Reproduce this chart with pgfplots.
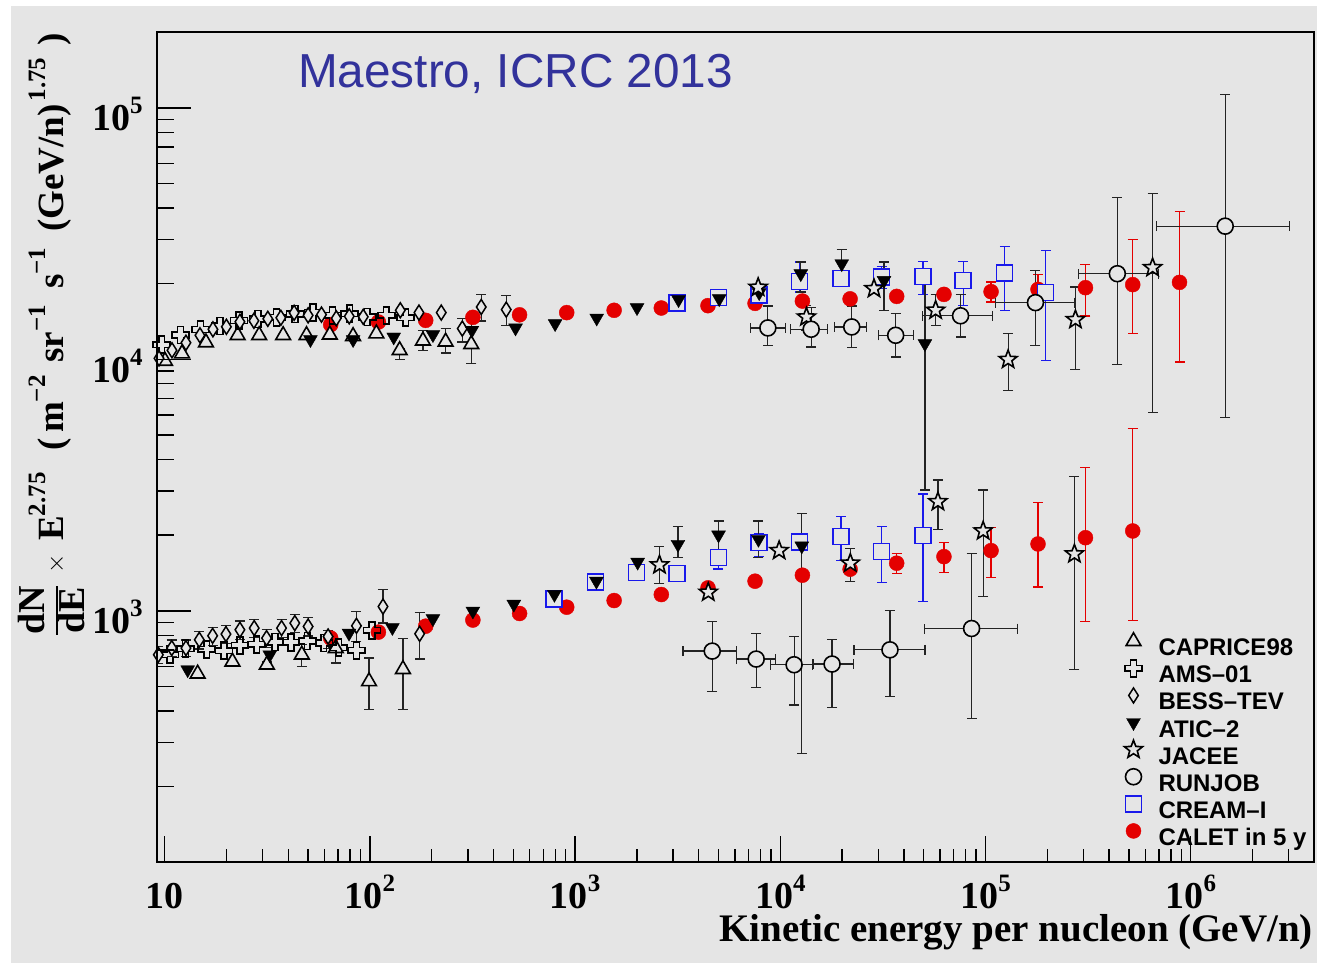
\documentclass[border=0pt]{standalone}
\usepackage{pgfplots}
\pgfplotsset{compat=1.18}
\usepackage{fontspec}
\setmainfont{Liberation Serif}
\newfontfamily\helv{Liberation Sans}
\usetikzlibrary{plotmarks}

\definecolor{bg}{RGB}{229,229,229}
\definecolor{calred}{RGB}{228,0,0}
\definecolor{creamblue}{RGB}{25,25,235}
\definecolor{titleblue}{RGB}{50,50,155}
\definecolor{ebar}{RGB}{35,35,35}

% open five-pointed star
\pgfdeclareplotmark{ostar}{%
  \pgfpathmoveto{\pgfpointpolar{90}{\pgfplotmarksize}}%
  \pgfpathlineto{\pgfpointpolar{126}{0.42\pgfplotmarksize}}%
  \pgfpathlineto{\pgfpointpolar{162}{\pgfplotmarksize}}%
  \pgfpathlineto{\pgfpointpolar{198}{0.42\pgfplotmarksize}}%
  \pgfpathlineto{\pgfpointpolar{234}{\pgfplotmarksize}}%
  \pgfpathlineto{\pgfpointpolar{270}{0.42\pgfplotmarksize}}%
  \pgfpathlineto{\pgfpointpolar{306}{\pgfplotmarksize}}%
  \pgfpathlineto{\pgfpointpolar{342}{0.42\pgfplotmarksize}}%
  \pgfpathlineto{\pgfpointpolar{18}{\pgfplotmarksize}}%
  \pgfpathlineto{\pgfpointpolar{54}{0.42\pgfplotmarksize}}%
  \pgfpathclose\pgfusepathqfillstroke}
% open cross (outline of a plus sign)
\pgfdeclareplotmark{ocross}{%
  \pgfpathmoveto{\pgfpoint{-0.34\pgfplotmarksize}{\pgfplotmarksize}}%
  \pgfpathlineto{\pgfpoint{0.34\pgfplotmarksize}{\pgfplotmarksize}}%
  \pgfpathlineto{\pgfpoint{0.34\pgfplotmarksize}{0.34\pgfplotmarksize}}%
  \pgfpathlineto{\pgfpoint{\pgfplotmarksize}{0.34\pgfplotmarksize}}%
  \pgfpathlineto{\pgfpoint{\pgfplotmarksize}{-0.34\pgfplotmarksize}}%
  \pgfpathlineto{\pgfpoint{0.34\pgfplotmarksize}{-0.34\pgfplotmarksize}}%
  \pgfpathlineto{\pgfpoint{0.34\pgfplotmarksize}{-\pgfplotmarksize}}%
  \pgfpathlineto{\pgfpoint{-0.34\pgfplotmarksize}{-\pgfplotmarksize}}%
  \pgfpathlineto{\pgfpoint{-0.34\pgfplotmarksize}{-0.34\pgfplotmarksize}}%
  \pgfpathlineto{\pgfpoint{-\pgfplotmarksize}{-0.34\pgfplotmarksize}}%
  \pgfpathlineto{\pgfpoint{-\pgfplotmarksize}{0.34\pgfplotmarksize}}%
  \pgfpathlineto{\pgfpoint{-0.34\pgfplotmarksize}{0.34\pgfplotmarksize}}%
  \pgfpathclose\pgfusepathqstroke}

% tick labels: bold 10 with a raised exponent
\newcommand\tl[2]{{\fontsize{38}{38}\selectfont\bfseries #1\raisebox{17pt}{\fontsize{25}{25}\selectfont #2}}}
\newcommand\sups[1]{\raisebox{18pt}{\fontsize{25}{25}\selectfont #1}}
\newcommand\dNdE{{\fontsize{38}{38}\selectfont\setlength\arrayrulewidth{1.8pt}\setlength\tabcolsep{0pt}\begin{tabular}{c}dN\\\hline dE\end{tabular}}}

\pgfplotsset{
  ebars/.style={error bars/y dir=both, error bars/y explicit,
    error bars/error bar style={line width=1.2pt, #1},
    error bars/error mark options={rotate=90, line width=1.2pt, mark size=5pt, #1}},
  xebars/.style={error bars/x dir=both, error bars/x explicit},
  openmark/.style={mark options={fill=bg, draw=black, line width=1.6pt}},
}

\begin{document}
\begin{tikzpicture}[x=1pt,y=1pt]
\useasboundingbox (0,0) rectangle (1317,963);
\fill[white] (0,0) rectangle (1317,963);
\fill[bg] (11,0) rectangle (1317,957);

\begin{axis}[
  at={(156.7pt,100.7pt)}, anchor=south west, scale only axis,
  width=1157.6pt, height=830pt,
  xmode=log, ymode=log,
  xmin=9.14, xmax=4.0e6, ymin=100, ymax=2e5,
  axis line style={line width=1.8pt},
  tick style={line width=1.4pt, black},
  tick align=inside, tick pos=left,
  major tick length=26pt, minor tick length=13pt,
  xtick={10,100,1000,10000,100000,1000000},
  minor xtick={20,30,40,50,60,70,80,90,200,300,400,500,600,700,800,900,
    2000,3000,4000,5000,6000,7000,8000,9000,20000,30000,40000,50000,60000,70000,80000,90000,
    200000,300000,400000,500000,600000,700000,800000,900000,2000000,3000000},
  xticklabels={\tl{10}{}, \tl{10}{2}, \tl{10}{3}, \tl{10}{4}, \tl{10}{5}, \tl{10}{6}},
  xticklabel style={anchor=base, yshift=-46pt, inner sep=0pt},
  ytick=\empty,
  legend image code/.code={\path[draw=none, fill=none] (-10pt,-6pt) rectangle (10pt,18pt);
    \draw[#1] plot coordinates {(0pt,8.5pt)};},
  legend style={at={(0.8350,0.2780)}, anchor=north west, draw=none, fill=none,
    inner sep=0pt, row sep=-2.9pt, column sep=15pt,
    font={\helv\bfseries\fontsize{24}{24}\selectfont},
    nodes={inner sep=0pt, text height=18pt, text depth=6pt}},
  legend cell align=left,
]

% CALET in 5 y (red filled circles)
\addplot[forget plot, only marks, color=calred, mark=*, mark size=7.5pt,
  mark options={fill=calred, draw=calred}]
  table[row sep=\\] {x y\\
  64.4 13750\\ 110 14080\\ 187 14300\\ 317.5 14700\\ 536 15040\\ 910 15350\\
  1549 15680\\ 2630 16010\\ 4440 16360\\ 7530 16710\\ 12810 17060\\ 21880 17410\\
  36900 17810\\ 62700 18140\\
  64.4 779\\ 110 823\\ 187 869\\ 317.5 919\\ 536 976\\ 910 1034\\ 1549 1099\\
  2630 1161\\ 4440 1234\\ 7530 1312\\ 12810 1386\\ 21880 1464\\};
\addplot[forget plot, only marks, color=calred, mark=*, mark size=7.5pt,
  mark options={fill=calred, draw=calred}, ebars=calred]
  table[row sep=\\, x=x, y=y, y error plus=yp, y error minus=ym] {x y yp ym\\
  106400 18600 1700 1690\\ 180200 18990 2790 2090\\ 306900 19290 4510 4410\\
  521600 19830 10080 7160\\ 881600 20250 18500 10480\\
  36900 1547 148 136\\ 62700 1643 224 218\\ 106400 1736 406 380\\
  180200 1845 856 600\\ 306900 1954 1766 1050\\ 521600 2078 3216 1163\\};

% CAPRICE98 (open triangles)
\addplot[forget plot, only marks, mark=triangle*, mark size=8.5pt, openmark]
  table[row sep=\\] {x y\\
  10.03 9859\\ 12.14 10550\\ 15.89 11670\\ 22.66 12470\\ 28.86 12470\\ 37.77 12470\\
  49.09 12470\\ 63.74 12530\\ 82.76 12360\\ 107.5 12670\\
  14.47 562.1\\ 21.38 627.5\\};
\addplot[forget plot, only marks, mark=triangle*, mark size=8.5pt, openmark, ebars=ebar]
  table[row sep=\\, x=x, y=y, y error plus=yp, y error minus=ym] {x y yp ym\\
  139.6 10870 210 883\\ 181.3 11860 1200 990\\ 233.8 11750 1510 1140\\ 311.8 11490 3040 1863\\
  31.47 610.5 15 15\\ 46.57 668.9 63.9 67.9\\ 68.18 709.8 57.5 89.8\\
  99.0 524.0 125 119.5\\ 144.9 585.9 193.1 181.4\\};

% AMS-01 (open crosses)
\addplot[forget plot, only marks, mark=ocross, mark size=8.5pt,
  mark options={draw=black, line width=1.6pt}]
  table[row sep=\\] {x y\\
  9.67 11440\\ 11.94 12510\\ 14.94 13140\\ 18.58 13600\\ 23.04 14270\\ 28.44 14460\\
  35.08 14700\\ 43.07 15140\\ 52.7 15360\\ 65.7 14970\\ 79.7 15210\\ 97.0 14740\\
  120.3 14970\\ 149.4 14640\\
  10.61 668.9\\ 12.63 707.8\\ 16.01 703.3\\ 19.44 693.8\\ 23.25 729.5\\ 28.04 736.2\\
  34.41 751.8\\ 41.18 749.8\\ 49.54 758.1\\ 59.6 744.3\\ 70.5 713.1\\ 85.97 697\\ 102.3 837\\};

% BESS-TEV (open diamonds)
\addplot[forget plot, only marks, mark=diamond*, mark size=7.5pt,
  mark options={fill=bg, draw=black, line width=1.5pt, xscale=0.85}]
  table[row sep=\\] {x y\\
  9.38 10100\\ 10.85 10870\\ 12.69 11650\\ 14.85 12470\\ 17.18 13170\\ 19.98 13480\\
  23.25 14110\\ 27.2 14240\\ 31.8 14500\\ 36.81 14640\\ 42.72 15320\\ 49.98 14970\\
  58.07 15070\\ 68.55 14570\\ 79.31 14840\\ 92.77 14770\\ 140.6 15680\\ 173.4 15350\\
  222.6 15350\\};
\addplot[forget plot, only marks, mark=diamond*, mark size=7.5pt,
  mark options={fill=bg, draw=black, line width=1.5pt, xscale=0.85}, ebars=ebar]
  table[row sep=\\, x=x, y=y, y error plus=yp, y error minus=ym] {x y yp ym\\
  281.9 13260 1270 1530\\ 348.7 16160 1980 1950\\ 461.6 15780 2190 2110\\
  9.31 668.9 50 50\\ 10.82 711.1 55 55\\ 12.69 711.1 55 55\\ 14.74 767.3 62 62\\
  17.12 795.8 65 65\\ 19.88 808.3 66 66\\ 23.25 840.7 70 70\\ 27.29 853.8 70 70\\
  31.36 779 64 64\\ 37.1 853.8 70 70\\ 43.05 893.9 75 75\\ 49.98 866.5 72 72\\
  62.55 790.7 45 80\\ 85.97 871.9 121.7 116.7\\ 115.8 1040 172 146\\ 174.7 810.3 174.1 167.2\\};

% CREAM-I (blue open squares)
\addplot[forget plot, only marks, mark=square*, mark size=8pt,
  mark options={fill=bg, draw=creamblue, line width=1.4pt}]
  table[row sep=\\] {x y\\
  3136 16750\\ 4982 17600\\ 7862 18030\\
  788.6 1116\\ 1256 1304\\ 1992 1419\\ 3136 1411\\};
\addplot[forget plot, only marks, mark=square*, mark size=8pt,
  mark options={fill=bg, draw=creamblue, line width=1.4pt}, ebars=creamblue]
  table[row sep=\\, x=x, y=y, y error plus=yp, y error minus=ym] {x y yp ym\\
  12440 20380 4000 1850\\ 19760 21000 1180 1120\\ 31180 21250 2190 2090\\
  49550 21390 3210 3250\\ 77800 20620 3980 4210\\ 124100 22040 6180 6360\\
  196600 18480 8650 8558\\
  4982 1628 119 160\\ 7862 1874 160 231\\ 12440 1879 125 132\\ 19760 1980 388 396\\
  31180 1720 441 424\\ 49550 1991 923 902\\};

% ATIC-2 (filled down triangles)
\addplot[forget plot, only marks, mark=triangle*, mark size=8pt,
  mark options={rotate=180, fill=black, draw=black}]
  table[row sep=\\] {x y\\
  51.3 11990\\ 82.8 11990\\ 130.6 12280\\ 202.8 12550\\ 314 13060\\ 512.3 13340\\
  799 13880\\ 1274 14610\\ 2003 16070\\ 3192 17290\\ 5037 17440\\ 7887 18430\\
  12.94 583.3\\ 32.5 668.9\\ 79.1 815.5\\ 128.7 858.6\\ 202.8 931.1\\ 317.5 998.2\\
  502.6 1063\\ 793 1163\\ 1270 1312\\ 2017 1562\\};
\addplot[forget plot, only marks, mark=triangle*, mark size=8pt,
  mark options={rotate=180, fill=black, draw=black}, ebars=ebar]
  table[row sep=\\, x=x, y=y, y error plus=yp, y error minus=ym] {x y yp ym\\
  12580 21920 2460 3390\\ 19920 24020 3290 3720\\ 32000 20620 3760 4940\\
  50660 11560 8320 8538\\
  3171 1840 321 206\\ 4998 2004 273 309\\ 7825 1926 351 292\\ 12720 1812 631 1540.7\\};

% JACEE (open stars)
\addplot[forget plot, only marks, mark=ostar, mark size=9.5pt, openmark]
  table[row sep=\\] {x y\\
  7798 19340\\ 28610 19110\\ 4454 1185\\ 9867 1736\\};
\addplot[forget plot, only marks, mark=ostar, mark size=9.5pt, openmark, ebars=ebar]
  table[row sep=\\, x=x, y=y, y error plus=yp, y error minus=ym] {x y yp ym\\
  13400 14740 1670 1680\\ 57120 15680 2410 2010\\ 128800 9987 2683 2444\\
  274200 14390 5010 5276\\ 651800 23160 22380 17008\\
  2577 1523 277 243\\ 21930 1547 227 240\\ 58610 2716 597 605\\
  97340 2078 944 938\\ 271100 1684 1731 1101\\};

% RUNJOB (open circles, energy bins as horizontal bars)
\addplot[forget plot, only marks, mark=*, mark size=8pt, openmark, ebars=ebar, xebars]
  table[row sep=\\, x=x, y=y, x error plus=xp, x error minus=xm,
        y error plus=yp, y error minus=ym] {x y xp xm yp ym\\
  8695 13340 1855 1510 2960 1960\\
  14130 13180 2820 2880 2890 1970\\
  22280 13460 4090 3940 2840 2310\\
  36480 12470 7950 6460 2740 2250\\
  75560 14910 32940 26410 3230 2630\\
  175100 16820 96000 63200 5770 5440\\
  438800 21920 258300 154400 22050 12354\\
  1472000 33880 1553000 788100 79120 28025\\
  4657 691.8 1438 1304 214.9 214.9\\
  7626 643.1 1882 1531 167.2 148.4\\
  11670 610.5 2660 2681 180.2 188.2\\
  17870 614.4 4810 3430 157.6 202.4\\
  34220 699.9 16440 11360 300.1 244.4\\
  85520 850.7 58180 35020 844.3 478.1\\};

% legend
\addlegendimage{only marks, mark=triangle*, mark size=8.5pt, mark options={fill=bg, draw=black, line width=1.6pt}}
\addlegendentry{CAPRICE98}
\addlegendimage{only marks, mark=ocross, mark size=8.5pt, mark options={draw=black, line width=1.6pt}}
\addlegendentry{AMS–01}
\addlegendimage{only marks, mark=diamond*, mark size=7.5pt, mark options={fill=bg, draw=black, line width=1.5pt, xscale=0.85}}
\addlegendentry{BESS–TEV}
\addlegendimage{only marks, mark=triangle*, mark size=8pt, mark options={rotate=180, fill=black, draw=black}}
\addlegendentry{ATIC–2}
\addlegendimage{only marks, mark=ostar, mark size=9.5pt, mark options={fill=bg, draw=black, line width=1.6pt}}
\addlegendentry{JACEE}
\addlegendimage{only marks, mark=*, mark size=8pt, mark options={fill=bg, draw=black, line width=1.6pt}}
\addlegendentry{RUNJOB}
\addlegendimage{only marks, mark=square*, mark size=8pt, mark options={fill=bg, draw=creamblue, line width=1.4pt}}
\addlegendentry{CREAM–I}
\addlegendimage{only marks, mark=*, mark size=7.5pt, mark options={fill=calred, draw=calred}}
\addlegendentry{CALET in 5 y}
\end{axis}

% second axis carries the longer y ticks and their labels
\begin{axis}[
  at={(156.7pt,100.7pt)}, anchor=south west, scale only axis,
  width=1157.6pt, height=830pt,
  xmode=log, ymode=log,
  xmin=9.14, xmax=4.0e6, ymin=100, ymax=2e5,
  axis line style={line width=1.8pt},
  tick style={line width=1.4pt, black},
  tick align=inside, tick pos=left,
  major tick length=34pt, minor tick length=17pt,
  xtick=\empty,
  ytick={1000,10000,100000},
  minor ytick={200,300,400,500,600,700,800,900,2000,3000,4000,5000,6000,7000,8000,9000,
    20000,30000,40000,50000,60000,70000,80000,90000},
  yticklabels={\tl{10}{3}, \tl{10}{4}, \tl{10}{5}},
  yticklabel style={anchor=base east, yshift=-23pt, xshift=-14pt, inner sep=0pt},
]
\end{axis}

\node[anchor=base west, inner sep=0pt, text=titleblue,
  font={\helv\fontsize{47.7}{47.7}\selectfont}] at (298,875.7) {Maestro, ICRC 2013};
\node[anchor=base east, inner sep=0pt, font={\fontsize{39}{39}\selectfont\bfseries}]
  at (1313,21) {Kinetic energy per nucleon (GeV/n)};
\node[rotate=90, anchor=base east, inner sep=0pt, font={\fontsize{37}{37}\selectfont\bfseries}]
  at (63,930) {\dNdE\hspace{13pt}$\times$\hspace{13pt}E\sups{2.75}\hspace{22pt}(\hspace{5pt}m\sups{−2}\hspace{13pt}sr\sups{−1}\hspace{16pt}s\sups{−1}\hspace{16pt}(GeV/n)\hspace{3pt}\sups{1.75}\hspace{12pt})};
\end{tikzpicture}
\end{document}
